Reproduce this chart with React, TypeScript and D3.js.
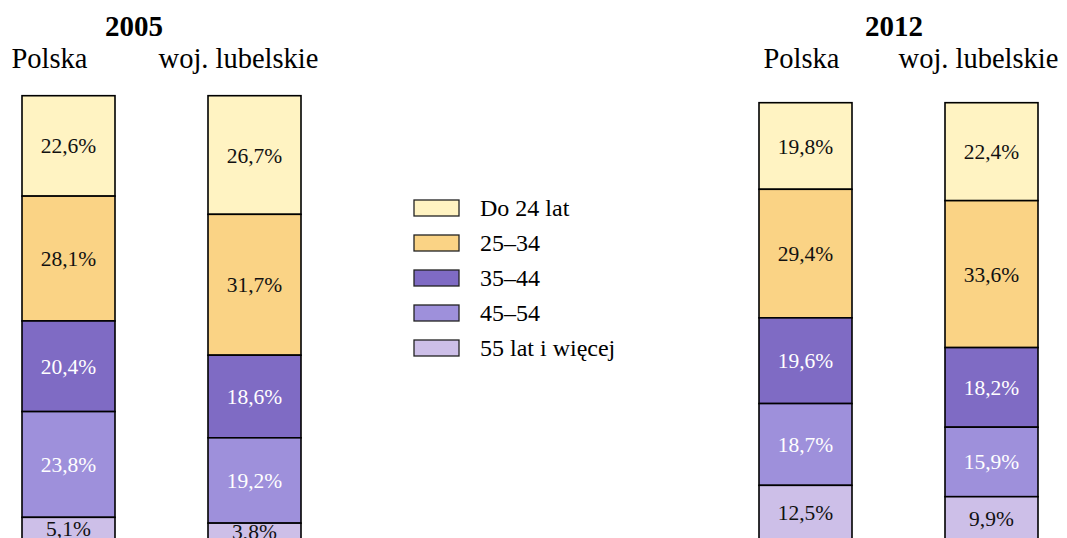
import * as d3 from "d3";

// dane z wykresu (%)
const ageGroups = ["Do 24 lat", "25–34", "35–44", "45–54", "55 lat i więcej"];
const regions = ["Polska", "woj. lubelskie"];
const years = ["2005", "2012"];

const polska2005 = [22.6, 28.1, 20.4, 23.8, 5.1];
const lubelskie2005 = [26.7, 31.7, 18.6, 19.2, 3.8];
const polska2012 = [19.8, 29.4, 19.6, 18.7, 12.5];
const lubelskie2012 = [22.4, 33.6, 18.2, 15.9, 9.9];

const colors = ["#FFF3C2", "#FAD385", "#7F6BC4", "#9E90DB", "#CDBFE8"];
const textColors = ["#111", "#111", "#fff", "#fff", "#111"];

const W = 1067;
const H = 538;
const font = "Liberation Serif";

const fmt = (v: number) => d3.format(".1f")(v).replace(".", ",") + "%";

// układ paneli
const panels = [
  { year: years[0], data: [polska2005, lubelskie2005], x0: 22, x1: 301, top: 95.7, titleX: 134, labelShift: [-19, -16] },
  { year: years[1], data: [polska2012, lubelskie2012], x0: 759, x1: 1038, top: 102.7, titleX: 894, labelShift: [-4, -13] },
];
const bottom = 540;

const Panel = ({ p }: { p: (typeof panels)[number] }) => {
  const x = d3.scaleBand<string>().domain(regions).range([p.x0, p.x1]).paddingInner(0.5).paddingOuter(0);
  const y = d3.scaleLinear().domain([0, 100]).range([p.top, bottom]);
  const stack = d3
    .stack<number[], number>()
    .keys(d3.range(ageGroups.length))
    .value((d, k) => d[k]);
  const series = stack(p.data);

  return (
    <g>
      <text x={p.titleX} y={36} textAnchor="middle" fontWeight="bold" fontSize={29}>
        {p.year}
      </text>
      {regions.map((r, i) => (
        <text
          key={r}
          x={(x(r) ?? 0) + x.bandwidth() / 2 + p.labelShift[i]}
          y={68}
          textAnchor="middle"
          fontSize={28.5}
        >
          {r}
        </text>
      ))}
      {series.map((layer, k) => (
        <g key={k}>
          {layer.map((d, i) => {
            const bx = x(regions[i]) ?? 0;
            const y0 = y(d[0]);
            const y1 = y(d[1]);
            return (
              <g key={i}>
                <rect
                  x={bx}
                  y={y0}
                  width={x.bandwidth()}
                  height={y1 - y0}
                  fill={colors[k]}
                  stroke="#000"
                  strokeWidth={1.6}
                />
                <text
                  x={bx + x.bandwidth() / 2}
                  y={(y0 + y1) / 2}
                  dy="0.35em"
                  textAnchor="middle"
                  fontSize={21.5}
                  fill={textColors[k]}
                >
                  {fmt(p.data[i][k])}
                </text>
              </g>
            );
          })}
        </g>
      ))}
    </g>
  );
};

export default function App() {
  const legendY = d3.scalePoint<string>().domain(ageGroups).range([208, 348]);
  return (
    <svg
      width={W}
      height={H}
      fontFamily={font}
      style={{ position: "absolute", left: 0, top: 0, background: "#fff", fontFamily: font }}
    >
      {panels.map((p) => (
        <Panel key={p.year} p={p} />
      ))}
      <g>
        {ageGroups.map((g, k) => (
          <g key={g} transform={`translate(414,${legendY(g)})`}>
            <rect x={0} y={-8} width={45} height={16} fill={colors[k]} stroke="#222" strokeWidth={1.3} />
            <text x={66} y={0} dy="0.35em" fontSize={24}>
              {g}
            </text>
          </g>
        ))}
      </g>
    </svg>
  );
}
